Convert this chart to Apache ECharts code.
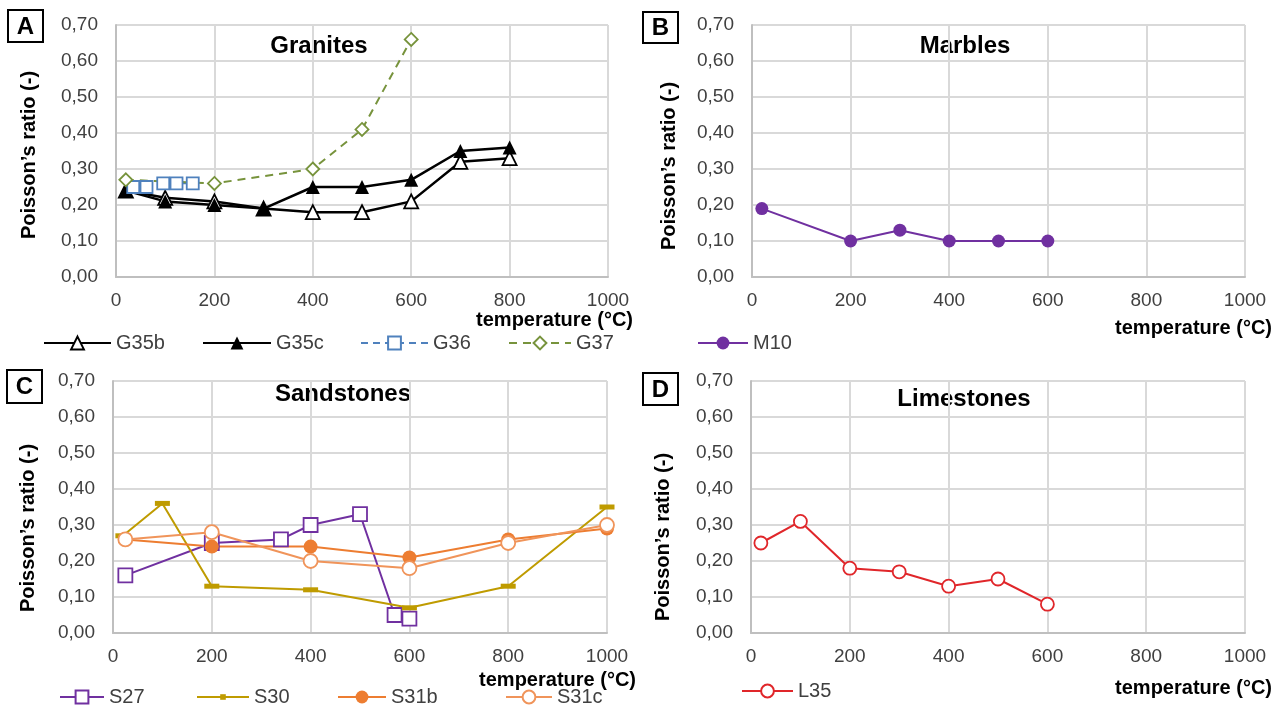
<!DOCTYPE html>
<html>
<head>
<meta charset="utf-8">
<script src="https://cdn.jsdelivr.net/npm/echarts@6/dist/echarts.min.js"></script>
<style>
html, body { margin: 0; padding: 0; background: #fff; }
#main { width: 1285px; height: 711px; }
</style>
</head>
<body>
<div id="main"></div>
<script>
// tick labels
var xTickLabels = ['0', '200', '400', '600', '800', '1000'];
var yTickLabels = ['0,00', '0,10', '0,20', '0,30', '0,40', '0,50', '0,60', '0,70'];

// A - Granites
var g35bT = [20, 100, 200, 300, 400, 500, 600, 700, 800];
var g35bV = [0.24, 0.22, 0.21, 0.19, 0.18, 0.18, 0.21, 0.32, 0.33];
var g35cT = [20, 100, 200, 300, 400, 500, 600, 700, 800];
var g35cV = [0.24, 0.21, 0.20, 0.19, 0.25, 0.25, 0.27, 0.35, 0.36];
var g36T = [35, 62, 96, 123, 156];
var g36V = [0.25, 0.25, 0.26, 0.26, 0.26];
var g37T = [20, 200, 400, 500, 600];
var g37V = [0.27, 0.26, 0.30, 0.41, 0.66];

// B - Marbles
var m10T = [20, 200, 300, 400, 500, 600];
var m10V = [0.19, 0.10, 0.13, 0.10, 0.10, 0.10];

// C - Sandstones
var s27T = [25, 200, 340, 400, 500, 570, 600];
var s27V = [0.16, 0.25, 0.26, 0.30, 0.33, 0.05, 0.04];
var s30T = [20, 100, 200, 400, 600, 800, 1000];
var s30V = [0.27, 0.36, 0.13, 0.12, 0.07, 0.13, 0.35];
var s31bT = [25, 200, 400, 600, 800, 1000];
var s31bV = [0.26, 0.24, 0.24, 0.21, 0.26, 0.29];
var s31cT = [25, 200, 400, 600, 800, 1000];
var s31cV = [0.26, 0.28, 0.20, 0.18, 0.25, 0.30];

// D - Limestones
var l35T = [20, 100, 200, 300, 400, 500, 600];
var l35V = [0.25, 0.31, 0.18, 0.17, 0.13, 0.15, 0.08];

function pairs(t, v) {
    return t.map(function (x, i) { return [x, v[i]]; });
}

var FONT = '"Liberation Sans", Arial, sans-serif';
var gridColor = '#d9d9d9';

var grids = [
    {left: 116, top: 25, width: 492, height: 252},
    {left: 752, top: 25, width: 493, height: 252},
    {left: 113, top: 381, width: 494, height: 252},
    {left: 751, top: 381, width: 494, height: 252}
];

var xAxes = grids.map(function (g, i) {
    return {
        type: 'value', gridIndex: i, min: 0, max: 1000, interval: 200,
        axisLine: {show: true, lineStyle: {color: '#bfbfbf', width: 2}},
        axisTick: {show: false},
        splitLine: {show: true, lineStyle: {color: gridColor, width: 2}},
        axisLabel: {
            fontFamily: FONT, fontSize: 19, color: '#404040', margin: 14,
            formatter: function (v) { return xTickLabels[Math.round(v / 200)]; }
        }
    };
});

var yAxes = grids.map(function (g, i) {
    return {
        type: 'value', gridIndex: i, min: 0, max: 0.7, interval: 0.1,
        axisLine: {show: true, lineStyle: {color: '#bfbfbf', width: 2}},
        axisTick: {show: false},
        splitLine: {show: true, lineStyle: {color: gridColor, width: 2}},
        axisLabel: {
            fontFamily: FONT, fontSize: 19, color: '#404040', margin: 18,
            formatter: function (v) { return yTickLabels[Math.round(v * 10)]; }
        }
    };
});

function line(name, idx, data, color, symbol, size, open, extra) {
    var s = {
        name: name, type: 'line', xAxisIndex: idx, yAxisIndex: idx,
        data: data, symbol: symbol, symbolSize: size, showAllSymbol: true,
        lineStyle: {color: color, width: 2},
        itemStyle: open
            ? {color: '#fff', borderColor: color, borderWidth: 1.8}
            : {color: color, borderColor: color, borderWidth: 0},
        emphasis: {disabled: true},
        animation: false
    };
    if (extra) {
        for (var k in extra) s.lineStyle[k] = extra[k];
    }
    return s;
}

var series = [
    line('G35b', 0, pairs(g35bT, g35bV), '#000000', 'triangle', 14, true, {width: 2.5}),
    line('G35c', 0, pairs(g35cT, g35cV), '#000000', 'triangle', 14, false, {width: 2.5}),
    line('G36', 0, pairs(g36T, g36V), '#4f81bd', 'rect', 12, true, {type: [7, 5], width: 1.5}),
    line('G37', 0, pairs(g37T, g37V), '#77933c', 'diamond', 13, true, {type: [8, 6], width: 2}),
    line('M10', 1, pairs(m10T, m10V), '#7030a0', 'circle', 13, false),
    line('S27', 2, pairs(s27T, s27V), '#7030a0', 'rect', 14, true),
    line('S30', 2, pairs(s30T, s30V), '#bf9b00', 'rect', [15, 5], false),
    line('S31b', 2, pairs(s31bT, s31bV), '#ed7d31', 'circle', 14, false),
    line('S31c', 2, pairs(s31cT, s31cV), '#f0945a', 'circle', 14, true),
    line('L35', 3, pairs(l35T, l35V), '#e0262a', 'circle', 13, true)
];

function leg(name, left, top, w, h) {
    return {
        data: [name], left: left, top: top, itemWidth: w, itemHeight: h || 16,
        selectedMode: false, padding: 0,
        textStyle: {fontFamily: FONT, fontSize: 20, color: '#404040'}
    };
}

var legends = [
    leg('G35b', 43, 333, 67),
    leg('G35c', 202, 333, 68),
    leg('G36', 360, 333, 67),
    leg('G37', 508, 333, 62),
    leg('M10', 697, 333, 50),
    leg('S27', 59, 687, 44),
    leg('S30', 196, 687, 52, 7),
    leg('S31b', 337, 687, 48),
    leg('S31c', 505, 687, 46),
    leg('L35', 741, 681, 51)
];

function box(letter, x, y, w, h) {
    return [
        {type: 'rect', shape: {x: x, y: y, width: w, height: h},
         style: {fill: '#fff', stroke: '#000', lineWidth: 2}},
        {type: 'text', x: x + w / 2, y: y + h / 2 + 1,
         style: {text: letter, fontFamily: FONT, fontWeight: 'bold', fontSize: 24,
                 fill: '#000', textAlign: 'center', textVerticalAlign: 'middle'}}
    ];
}

function txt(text, x, y, size, align, rot) {
    return {type: 'text', x: x, y: y, rotation: rot || 0,
            style: {text: text, fontFamily: FONT, fontWeight: 'bold', fontSize: size,
                    fill: '#000', textAlign: align, textVerticalAlign: 'middle'}};
}

var graphics = [].concat(
    box('A', 8, 10, 35, 32),
    box('B', 643, 12, 35, 31),
    box('C', 7, 370, 35, 33),
    box('D', 643, 373, 35, 32),
    [
        txt('Granites', 319, 46, 24, 'center'),
        txt('Marbles', 965, 46, 24, 'center'),
        txt('Sandstones', 343, 394, 24, 'center'),
        txt('Limestones', 964, 399, 24, 'center'),
        txt('Poisson\u2019s ratio (-)', 29, 155, 20, 'center', Math.PI / 2),
        txt('Poisson\u2019s ratio (-)', 669, 166, 20, 'center', Math.PI / 2),
        txt('Poisson\u2019s ratio (-)', 28, 528, 20, 'center', Math.PI / 2),
        txt('Poisson\u2019s ratio (-)', 663, 537, 20, 'center', Math.PI / 2),
        txt('temperature (\u00b0C)', 633, 320, 20, 'right'),
        txt('temperature (\u00b0C)', 1272, 328, 20, 'right'),
        txt('temperature (\u00b0C)', 636, 680, 20, 'right'),
        txt('temperature (\u00b0C)', 1272, 688, 20, 'right')
    ]
);

var myChart = echarts.init(document.getElementById('main'));

var option = {
    animation: false,
    backgroundColor: '#fff',
    grid: grids,
    xAxis: xAxes,
    yAxis: yAxes,
    legend: legends,
    series: series,
    graphic: graphics
};
myChart.setOption(option);
</script>
</body>
</html>
